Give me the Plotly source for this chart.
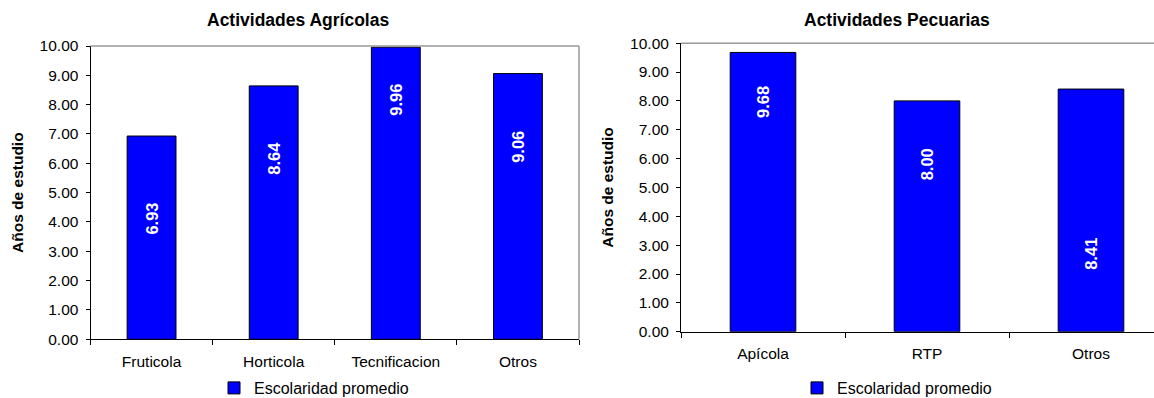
import plotly.graph_objects as go

# Average schooling (years of study) by activity type
agri_categories = ["Fruticola", "Horticola", "Tecnificacion", "Otros"]
agri_values = [6.93, 8.64, 9.96, 9.06]

pecu_categories = ["Apícola", "RTP", "Otros"]
pecu_values = [9.68, 8.00, 8.41]

series_name = "Escolaridad promedio"
y_ticks = [0, 1, 2, 3, 4, 5, 6, 7, 8, 9, 10]

# vertical placement of the rotated value labels inside each bar (data units)
agri_label_y = [4.10, 6.18, 8.16, 6.56]
pecu_label_y = [7.96, 5.80, 2.70]

FONT = "Liberation Sans, Arial, sans-serif"
BLUE = "#0000FF"
W, H = 1154, 398

fig = go.Figure()

fig.add_trace(go.Bar(
    x=agri_categories, y=agri_values, name=series_name,
    marker=dict(color=BLUE, line=dict(color="black", width=1)),
    width=0.4, xaxis="x", yaxis="y", legend="legend",
))
fig.add_trace(go.Bar(
    x=pecu_categories, y=pecu_values, name=series_name,
    marker=dict(color=BLUE, line=dict(color="black", width=1)),
    width=0.4, xaxis="x2", yaxis="y2", legend="legend2",
))

def px_x(p):
    return p / W

def px_y(p):
    return (H - p) / H

xcommon = dict(
    type="category", showline=True, linecolor="black", linewidth=1,
    ticks="outside", ticklen=5, tickcolor="black", tickson="boundaries",
    tickfont=dict(family=FONT, size=15.5, color="black"),
    showgrid=False, zeroline=False, fixedrange=True, ticklabelstandoff=8,
)
ycommon = dict(
    range=[0, 10], tickvals=y_ticks, tickformat=".2f",
    showline=True, linecolor="black", linewidth=1,
    ticks="outside", ticklen=4, tickcolor="black",
    tickfont=dict(family=FONT, size=15.5, color="black"),
    ticklabelstandoff=4,
    showgrid=False, zeroline=False,
    title=dict(text="<b>Años de estudio</b>", font=dict(family=FONT, size=15.5, color="black"), standoff=12),
)

fig.update_layout(
    width=W, height=H,
    margin=dict(l=0, r=0, t=0, b=0, autoexpand=False),
    paper_bgcolor="white", plot_bgcolor="white",
    font=dict(family=FONT, color="black"),
    xaxis=dict(xcommon, domain=[px_x(90.5), px_x(579)], range=[-0.5, 3.5], anchor="y"),
    yaxis=dict(ycommon, domain=[px_y(339.3), px_y(46)], anchor="x"),
    xaxis2=dict(xcommon, domain=[px_x(681), 1.0], range=[-0.5, 2.5 - 19 / 164], anchor="y2"),
    yaxis2=dict(ycommon, domain=[px_y(331.7), px_y(43.2)], anchor="x2"),
    bargap=0.6,
    legend=dict(
        x=px_x(314), y=px_y(388), xanchor="center", yanchor="middle",
        orientation="h", font=dict(family=FONT, size=16, color="black"),
        bgcolor="rgba(0,0,0,0)",
    ),
    legend2=dict(
        x=px_x(897), y=px_y(388), xanchor="center", yanchor="middle",
        orientation="h", font=dict(family=FONT, size=16, color="black"),
        bgcolor="rgba(0,0,0,0)",
    ),
    showlegend=True,
)

# chart titles
fig.add_annotation(text="<b>Actividades Agrícolas</b>", xref="paper", yref="paper",
                   x=px_x(297.5), y=px_y(20), xanchor="center", yanchor="middle",
                   showarrow=False, font=dict(family=FONT, size=17.5, color="black"))
fig.add_annotation(text="<b>Actividades Pecuarias</b>", xref="paper", yref="paper",
                   x=px_x(897), y=px_y(20), xanchor="center", yanchor="middle",
                   showarrow=False, font=dict(family=FONT, size=17.5, color="black"))

# rotated value labels inside the bars
for cat, val, ly in zip(agri_categories, agri_values, agri_label_y):
    fig.add_annotation(text=f"<b>{val:.2f}</b>", x=cat, y=ly, xref="x", yref="y",
                       textangle=-90, showarrow=False,
                       font=dict(family=FONT, size=16.5, color="white"))
for cat, val, ly in zip(pecu_categories, pecu_values, pecu_label_y):
    fig.add_annotation(text=f"<b>{val:.2f}</b>", x=cat, y=ly, xref="x2", yref="y2",
                       textangle=-90, showarrow=False,
                       font=dict(family=FONT, size=16.5, color="white"))

# gray plot-area frame (top and right edges)
GRAY = "#9a9a9a"
fig.add_shape(type="line", xref="x domain", yref="y domain", x0=0, x1=1, y0=1, y1=1,
              line=dict(color=GRAY, width=1.5))
fig.add_shape(type="line", xref="x domain", yref="y domain", x0=1, x1=1, y0=0, y1=1,
              line=dict(color=GRAY, width=1.5))
fig.add_shape(type="line", xref="x2 domain", yref="y2 domain", x0=0, x1=1, y0=1, y1=1,
              line=dict(color=GRAY, width=1.5))

fig.write_html("out.html")
